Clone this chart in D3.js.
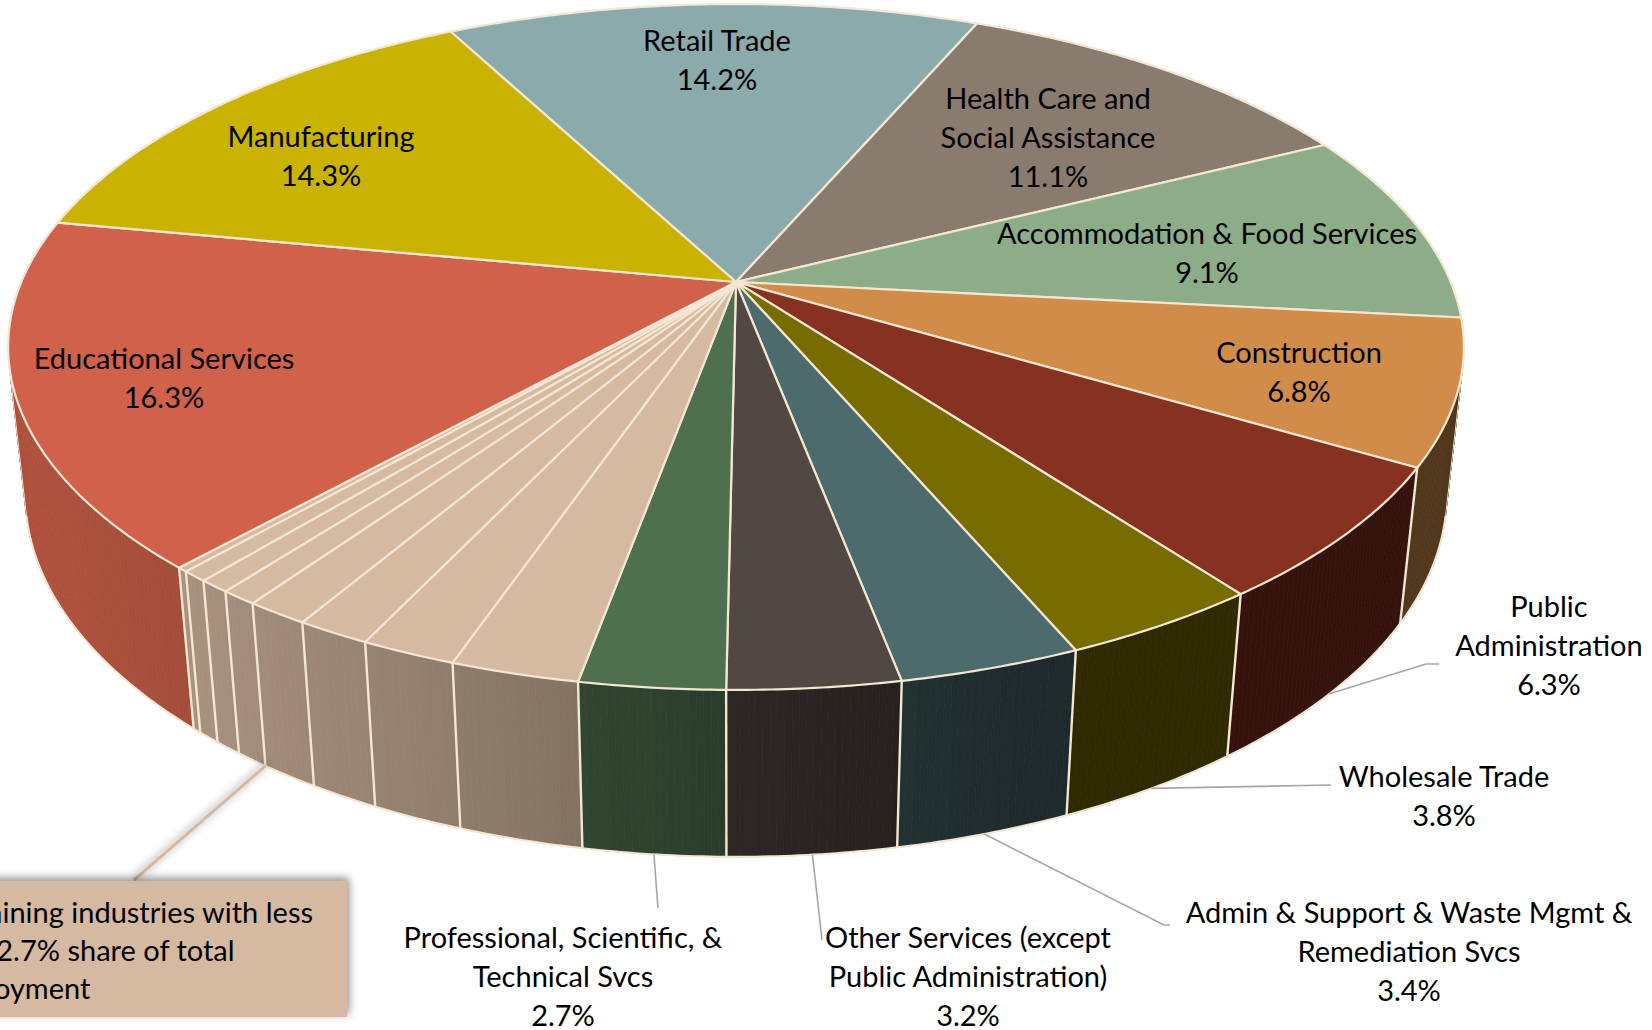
<!DOCTYPE html>
<html>
<head>
<meta charset="utf-8">
<script src="https://cdn.jsdelivr.net/npm/d3@7"></script>
<style>
  html, body { margin: 0; padding: 0; background: #fff; overflow: hidden; }
  text { font-family: Lato, "Open Sans", sans-serif; font-size: 29px; fill: #000; }
</style>
</head>
<body>
<svg id="chart" width="1652" height="1030"></svg>
<script>
// ---- data (share of total employment, %) ----
const CATEGORIES = [
  "Retail Trade", "Health Care and Social Assistance", "Accommodation & Food Services",
  "Construction", "Public Administration", "Wholesale Trade",
  "Admin & Support & Waste Mgmt & Remediation Svcs",
  "Other Services (except Public Administration)",
  "Professional, Scientific, & Technical Svcs",
  "Remaining 1", "Remaining 2", "Remaining 3", "Remaining 4",
  "Remaining 5", "Remaining 6", "Remaining 7", "Remaining 8",
  "Educational Services", "Manufacturing"
];
const SHARES = [14.2, 11.1, 9.1, 6.8, 6.3, 3.8, 3.4, 3.2, 2.7,
                2.4, 1.8, 1.4, 1.2, 0.7, 0.6, 0.5, 0.2,
                16.3, 14.3];
// how each label is broken into lines
const NAME_LINES = [
  ["Retail Trade"], ["Health Care and", "Social Assistance"], ["Accommodation & Food Services"],
  ["Construction"], ["Public", "Administration"], ["Wholesale Trade"],
  ["Admin & Support & Waste Mgmt &", "Remediation Svcs"],
  ["Other Services (except", "Public Administration)"],
  ["Professional, Scientific, &", "Technical Svcs"],
  null, null, null, null, null, null, null, null,
  ["Educational Services"], ["Manufacturing"]
];
const CALLOUT_LINES = ["Remaining industries with less", "than 2.7% share of total", "employment"];

// ---- styles ----
const COLORS = ["#8AAAAB", "#8A7B6F", "#8DAD88", "#D08C48", "#873120", "#786B00",
                "#4D6B6D", "#514843", "#4F704E",
                "#D5B9A0", "#D5B9A0", "#D5B9A0", "#D5B9A0", "#D5B9A0", "#D5B9A0", "#D5B9A0", "#D5B9A0",
                "#D0614A", "#C9B300"];
const EDGE = "#F3E6D3";
const LEADER = "#A6A6A6";

// ---- label layout (centre x, first line centre y, optional leader elbow points) ----
const LABEL_POS = {
  0: {x: 717, y: 39}, 1: {x: 1048, y: 97}, 2: {x: 1207, y: 232}, 3: {x: 1299, y: 351},
  4: {x: 1549, y: 605, leader: [[1426, 664], [1439, 664]]},
  5: {x: 1444, y: 775, leader: [[1331, 785]]},
  6: {x: 1409, y: 911, leader: [[1164, 925], [1170, 925]]},
  7: {x: 968, y: 936, leader: [[822, 940]]},
  8: {x: 563, y: 936, leader: [[658, 908]]},
  17: {x: 164, y: 357}, 18: {x: 321, y: 135}
};
const LINE_GAP = 39;

// ---- 3D projection of the tilted pie ----
const CX = 736, CY = 282;       // screen position of pie centre
const FOCAL = 3344, DIST = 4.679;
const SIN_T = 0.4626, COS_T = Math.sqrt(1 - SIN_T * SIN_T);
const DEPTH = 0.2345;           // thickness, in radius units
const START_DEG = -27.8;
const STEP = Math.PI / 360;
const LIGHT = -160 * Math.PI / 180;

function project(theta, r, z) {
  const x = r * Math.cos(theta), y = r * Math.sin(theta);
  const yc = z * COS_T + y * SIN_T;
  const zc = y * COS_T - z * SIN_T + DIST;
  return [CX + FOCAL * x / zc, CY - FOCAL * yc / zc];
}

function arcPoints(t1, t2, z) {
  const n = Math.max(2, Math.ceil(Math.abs(t1 - t2) / STEP));
  return d3.range(n + 1).map(k => project(t1 + (t2 - t1) * k / n, 1, z));
}

function shade(color, t) {
  const f = 0.39 + 0.45 * Math.max(0, Math.cos(t - LIGHT));
  const c = d3.rgb(color);
  return d3.rgb(c.r * f, c.g * f, c.b * f).formatHex();
}

const svg = d3.select("#chart");
const defs = svg.append("defs");
const flt = defs.append("filter").attr("id", "shadow")
  .attr("x", "-30%").attr("y", "-40%").attr("width", "160%").attr("height", "180%");
flt.append("feDropShadow").attr("dx", 2).attr("dy", -3).attr("stdDeviation", 4)
  .attr("flood-color", "#000").attr("flood-opacity", 0.45);

const data = CATEGORIES.map((c, i) => ({name: c, share: SHARES[i], color: COLORS[i], i: i}));
const start = START_DEG * Math.PI / 180;
const pie = d3.pie().sort(null).value(d => d.share)
  .startAngle(start).endAngle(start + 2 * Math.PI);
const arcs = pie(data);
arcs.forEach(a => {
  a.t1 = Math.PI / 2 - a.startAngle;
  a.t2 = Math.PI / 2 - a.endAngle;
  a.tm = (a.t1 + a.t2) / 2;
});

const line = d3.line();
const visEdge = Math.asin(1 / (DIST * COS_T));
const VIS_HI = -visEdge, VIS_LO = -Math.PI + visEdge;

// side walls (front part only), shaded strip by strip
const walls = svg.append("g");
arcs.forEach(a => {
  const hi = Math.min(a.t1, VIS_HI), lo = Math.max(a.t2, VIS_LO);
  if (hi <= lo) return;
  const n = Math.max(1, Math.ceil((hi - lo) / STEP));
  for (let k = 0; k < n; k++) {
    const ta = hi - (hi - lo) * k / n, tb = hi - (hi - lo) * (k + 1) / n;
    const col = shade(a.data.color, (ta + tb) / 2);
    walls.append("path")
      .attr("d", line([project(ta, 1, 0), project(tb, 1, 0), project(tb, 1, -DEPTH), project(ta, 1, -DEPTH)]) + "Z")
      .attr("fill", col).attr("stroke", col).attr("stroke-width", 0.8);
  }
});

// wall seams and bottom rim
arcs.forEach(a => {
  if (a.t1 < VIS_HI && a.t1 > VIS_LO) {
    walls.append("path")
      .attr("d", line([project(a.t1, 1, 0), project(a.t1, 1, -DEPTH)]))
      .attr("stroke", EDGE).attr("stroke-width", 2.4).attr("fill", "none");
  }
});
walls.append("path")
  .attr("d", line(arcPoints(VIS_HI, VIS_LO, -DEPTH)))
  .attr("stroke", EDGE).attr("stroke-width", 2).attr("fill", "none");
[VIS_HI, VIS_LO].forEach(t => {
  walls.append("path")
    .attr("d", line([project(t, 1, 0), project(t, 1, -DEPTH)]))
    .attr("stroke", EDGE).attr("stroke-width", 1).attr("fill", "none");
});

// top faces
svg.append("g").selectAll("path")
  .data(arcs)
  .join("path")
    .attr("d", a => line([project(0, 0, 0)].concat(arcPoints(a.t1, a.t2, 0))) + "Z")
    .attr("fill", a => a.data.color)
    .attr("stroke", EDGE)
    .attr("stroke-width", 2.2)
    .attr("stroke-linejoin", "round");

// leader lines
const fmt = d3.format(".1f");
const labels = svg.append("g");
arcs.forEach(a => {
  const pos = LABEL_POS[a.data.i];
  if (!pos || !pos.leader) return;
  labels.append("path")
    .attr("d", line([project(a.tm, 1, -DEPTH)].concat(pos.leader)))
    .attr("stroke", LEADER).attr("stroke-width", 1.6).attr("fill", "none");
});

// slice labels
arcs.forEach(a => {
  const pos = LABEL_POS[a.data.i];
  if (!pos) return;
  const lines = NAME_LINES[a.data.i].concat([fmt(a.data.share) + "%"]);
  const t = labels.append("text")
    .attr("text-anchor", "middle")
    .attr("dominant-baseline", "central");
  lines.forEach((s, k) => {
    t.append("tspan").attr("x", pos.x).attr("y", pos.y + k * LINE_GAP).text(s);
  });
});

// callout for the remaining small industries
const tanEnd = arcs[12];
const call = svg.append("g");
call.append("path")
  .attr("d", line([project(tanEnd.t2, 1, -DEPTH), [134, 880]]))
  .attr("stroke", COLORS[9]).attr("stroke-width", 3).attr("fill", "none")
  .attr("filter", "url(#shadow)");
call.append("rect")
  .attr("x", -20).attr("y", 881).attr("width", 367).attr("height", 136)
  .attr("fill", COLORS[9]).attr("filter", "url(#shadow)");
const ct = call.append("text").attr("dominant-baseline", "central");
CALLOUT_LINES.forEach((s, k) => {
  ct.append("tspan").attr("y", 911 + k * 38).text(s);
});
const firstW = ct.select("tspan").node().getComputedTextLength();
ct.selectAll("tspan").attr("x", 313 - firstW);
</script>
</body>
</html>
